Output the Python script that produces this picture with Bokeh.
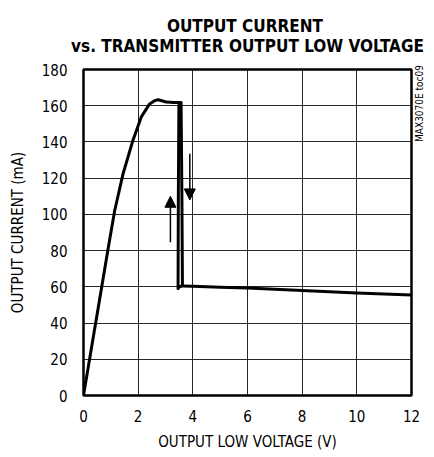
import math
from bokeh.plotting import figure
from bokeh.models import Range1d, FixedTicker, Title, LinearAxis, Arrow, NormalHead
from bokeh.embed import file_html
from bokeh.resources import INLINE

# Forward sweep (increasing voltage): rise, plateau, then drop
fwd_v = [0, 0.3, 0.6, 0.9, 1.14, 1.44, 1.81, 2.12, 2.42, 2.6, 2.73, 2.9, 3.03, 3.3, 3.57, 3.60, 3.62]
fwd_i = [0, 27, 54, 81, 102, 122, 141, 154, 161, 162.8, 163.3, 162.6, 162.0, 161.8, 161.8, 110, 60.5]
# Return sweep (decreasing voltage): back up the left edge of the drop
ret_v = [3.62, 3.52, 3.46, 3.47, 3.49, 3.52, 3.57]
ret_i = [60.5, 60.2, 59.0, 110, 160, 161.6, 161.8]
# Tail beyond the drop
tail_v = [3.62, 4, 5, 6, 7, 8, 9, 10, 11, 12]
tail_i = [60.5, 60.3, 59.8, 59.3, 58.6, 58.0, 57.3, 56.6, 56.0, 55.5]

# Hysteresis direction arrows (voltage, start current, end current)
up_arrow = [3.18, 84.6, 110.0]
down_arrow = [3.89, 133.5, 108.0]

x_ticks = [0, 2, 4, 6, 8, 10, 12]
y_ticks = [0, 20, 40, 60, 80, 100, 120, 140, 160, 180]
title_lines = ["OUTPUT CURRENT", "vs. TRANSMITTER OUTPUT LOW VOLTAGE"]
side_note = "MAX3070E toc09"
side_note_at = 140

FONT = "'DejaVu Sans Condensed', 'Liberation Sans Narrow', 'Roboto', sans-serif"

p = figure(width=434, height=457, output_backend="svg", toolbar_location=None,
           x_range=Range1d(0, 12), y_range=Range1d(0, 180),
           min_border_left=83, min_border_right=23, min_border_top=69, min_border_bottom=62)
p.background_fill_color = "white"
p.border_fill_color = "white"
p.outline_line_color = "black"
p.outline_line_width = 2.5

# right-side note as an axis with one labelled tick
right_ax = LinearAxis(ticker=FixedTicker(ticks=[side_note_at]),
                      major_label_overrides={side_note_at: side_note},
                      major_label_orientation=math.pi / 2)
p.add_layout(right_ax, "right")

for ax in (p.xaxis[0], p.yaxis[0], right_ax):
    ax.axis_line_color = None
    ax.major_tick_line_color = None
    ax.minor_tick_line_color = None
    ax.major_tick_out = 0
    ax.major_tick_in = 0
    ax.minor_tick_out = 0
    ax.minor_tick_in = 0
    ax.major_label_text_font = FONT
    ax.major_label_text_font_size = "15px"
    ax.major_label_text_color = "black"
    ax.axis_label_text_font = FONT
    ax.axis_label_text_font_size = "15px"
    ax.axis_label_text_font_style = "normal"
    ax.axis_label_text_color = "black"

right_ax.major_label_text_font_size = "10px"
right_ax.major_label_standoff = 8

p.xaxis[0].ticker = FixedTicker(ticks=x_ticks)
p.yaxis[0].ticker = FixedTicker(ticks=y_ticks)
p.xaxis[0].axis_label = "OUTPUT LOW VOLTAGE (V)"
p.yaxis[0].axis_label = "OUTPUT CURRENT (mA)"
p.xaxis[0].major_label_standoff = 14
p.yaxis[0].major_label_standoff = 16
p.xaxis[0].axis_label_standoff = 8
p.yaxis[0].axis_label_standoff = 12

p.xgrid.grid_line_color = "black"
p.ygrid.grid_line_color = "black"
p.xgrid.grid_line_width = 1
p.ygrid.grid_line_width = 1
p.xgrid.grid_line_alpha = 0.85
p.ygrid.grid_line_alpha = 0.85
p.xgrid.ticker = FixedTicker(ticks=x_ticks)
p.ygrid.ticker = FixedTicker(ticks=y_ticks)

p.line(fwd_v, fwd_i, line_color="black", line_width=3, line_join="round")
p.line(ret_v, ret_i, line_color="black", line_width=3, line_join="round")
p.line(tail_v, tail_i, line_color="black", line_width=3, line_join="round")

p.add_layout(Arrow(end=NormalHead(size=11, fill_color="black", line_color="black"),
                   x_start=up_arrow[0], y_start=up_arrow[1], x_end=up_arrow[0], y_end=up_arrow[2],
                   line_color="black", line_width=1.5))
p.add_layout(Arrow(end=NormalHead(size=11, fill_color="black", line_color="black"),
                   x_start=down_arrow[0], y_start=down_arrow[1], x_end=down_arrow[0], y_end=down_arrow[2],
                   line_color="black", line_width=1.5))

# multi-line title; first line padded with no-break spaces so it sits centred
title_text = "\u00a0" * 18 + title_lines[0] + "\n" + title_lines[1]
p.add_layout(Title(text=title_text, align="center",
                   text_font=FONT, text_font_size="17px", text_font_style="bold",
                   text_color="black", standoff=27, text_line_height=1.0), "above")

open("out.html", "w").write(file_html(p, INLINE))
